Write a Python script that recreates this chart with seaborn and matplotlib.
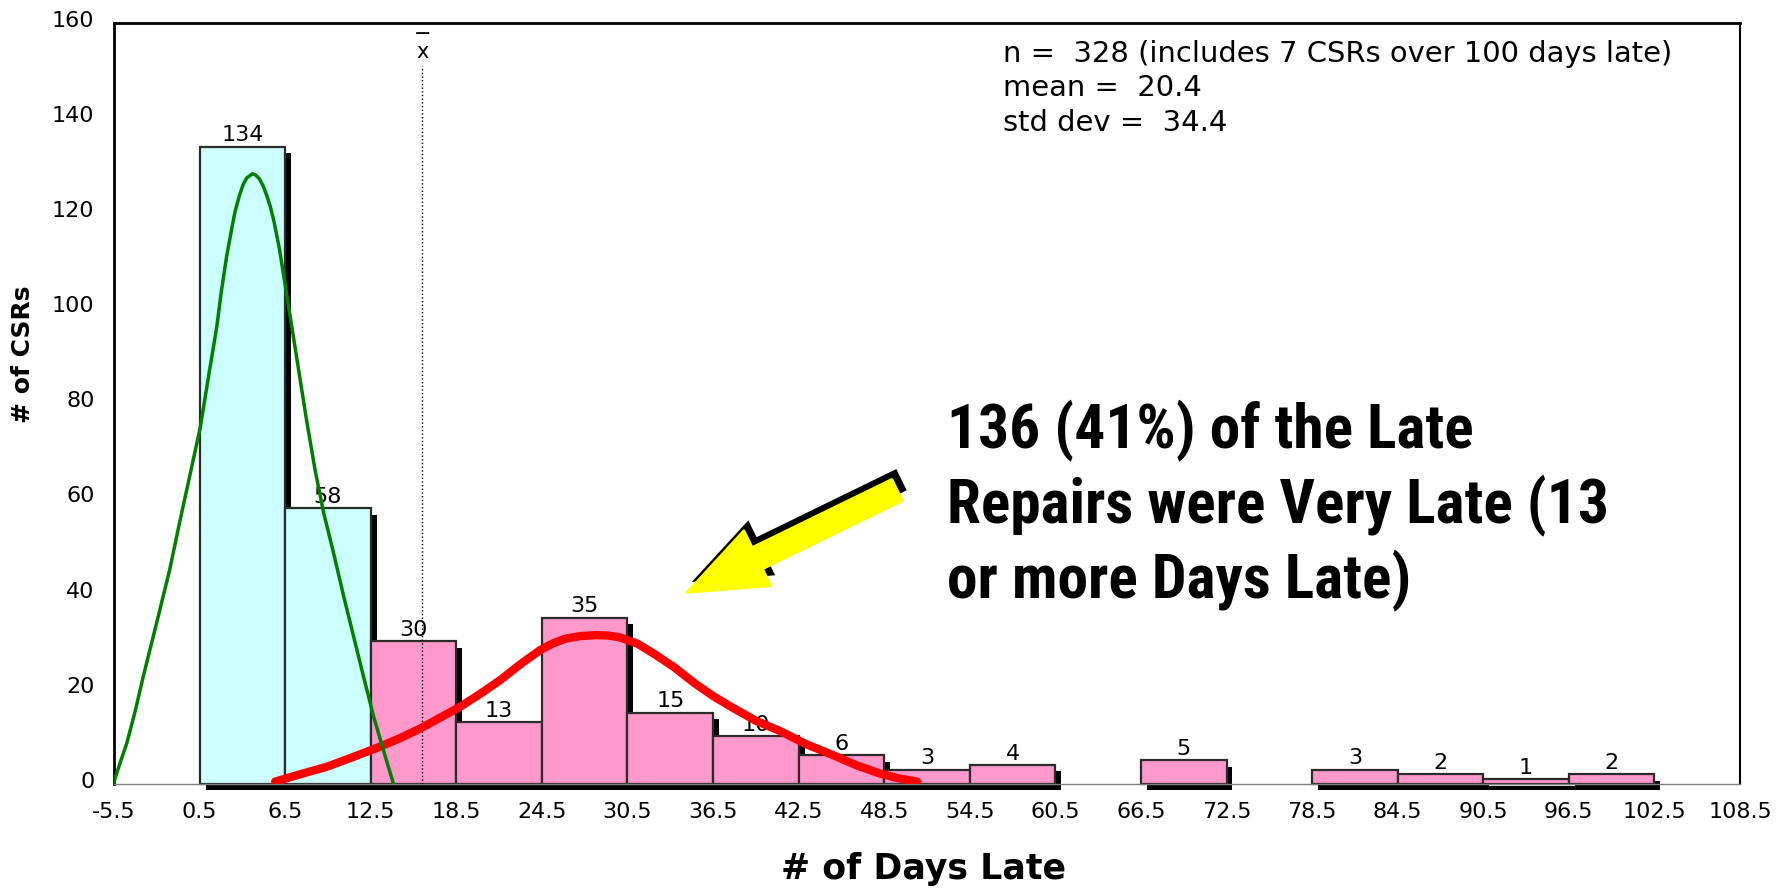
import numpy as np
import matplotlib
matplotlib.use("Agg")
import matplotlib.pyplot as plt
import matplotlib.patheffects as pe
import matplotlib.font_manager as fm
from matplotlib.transforms import ScaledTranslation
import seaborn as sns

# histogram of late repairs (bin centres / counts)
days_mid = [3.5, 9.5, 15.5, 21.5, 27.5, 33.5, 39.5, 45.5, 51.5, 57.5, 69.5, 81.5, 87.5, 93.5, 99.5]
csr_count = [134, 58, 30, 13, 35, 15, 10, 6, 3, 4, 5, 3, 2, 1, 2]
lateness = ["late"] * 2 + ["very late"] * 13
tick_labels = ["-5.5", "0.5", "6.5", "12.5", "18.5", "24.5", "30.5", "36.5", "42.5",
               "48.5", "54.5", "60.5", "66.5", "72.5", "78.5", "84.5", "90.5", "96.5",
               "102.5", "108.5"]
bin_edges = [float(t) for t in tick_labels]

# fitted curves, points
green_x = [-5.55, -5.1, -4.6, -4.0, -3.45, -2.5, -1.6, -0.9, -0.1, 0.55, 1.2, 1.7, 2.0, 2.4, 2.8,
           3.0, 3.3, 3.55, 3.8, 4.2, 4.45, 4.7, 4.95, 5.2, 5.45, 5.7, 6.1, 6.6, 7.0, 7.5, 8.0,
           8.6, 9.2, 9.9, 10.6, 11.3, 12.0, 12.7, 13.4, 14.1]
green_y = [0, 4.2, 8.6, 15.5, 22.6, 34, 45, 55, 66, 75, 87, 96, 103, 111, 117.5,
           120.5, 123.8, 126.0, 127.4, 128.3, 128.0, 127.2, 125.8, 123.8, 121.5, 118.5, 112.5, 103, 95.5, 86, 76.5,
           66, 57, 48.5, 39.5, 31, 22.5, 14.2, 7, 0]
red_x = [5.8, 7.5, 9.4, 11.2, 13.1, 14.6, 16.0, 17.4, 18.8, 20.2, 21.6, 23.0, 24.4, 25.3, 26.2,
         27.2, 28.3, 29.2, 30.0, 31.2, 32.3, 33.8, 35.2, 36.5, 37.9, 39.5, 41.3, 43.0, 44.9,
         46.5, 48.2, 49.5, 50.8]
red_y = [0.5, 2.0, 3.6, 5.6, 7.8, 9.7, 11.7, 14.0, 16.3, 19.0, 21.9, 25.2, 28.2, 29.6, 30.6,
         31.1, 31.3, 31.2, 30.8, 29.5, 27.5, 24.5, 21.2, 18.5, 16.0, 13.3, 11.0, 8.4, 6.1,
         4.0, 2.2, 1.2, 0.5]

xbar_pos = 16.1
stats_text = "n =  328 (includes 7 CSRs over 100 days late)\nmean =  20.4\nstd dev =  34.4"
callout_text = "136 (41%) of the Late\nRepairs were Very Late (13\nor more Days Late)"
arrow_tail = (49.4, 61.8)
arrow_tip = (34.7, 40.3)

sns.set_style("white")
plt.rcParams["font.family"] = ["DejaVu Sans"]
plt.rcParams["axes.unicode_minus"] = False
for k in ["text.color", "axes.labelcolor", "xtick.color", "ytick.color"]:
    plt.rcParams[k] = "black"


def pick_condensed():
    found = []
    for f in fm.fontManager.ttflist:
        nm = (f.name + " " + f.fname).lower()
        narrowish = "narrow" in nm or "condensed" in nm or f.stretch in ("condensed", "semi-condensed", "extra-condensed")
        w = f.weight if isinstance(f.weight, int) else (700 if "bold" in str(f.weight) else 400)
        if narrowish and w >= 600 and "italic" not in nm and "oblique" not in nm:
            rank = 0 if "liberation" in nm else 1 if "roboto" in nm else 2 if "dejavu" in nm else 3
            found.append((rank, f.fname))
    if found:
        return fm.FontProperties(fname=sorted(found)[0][1])
    return fm.FontProperties(family="Roboto", weight="bold")


W, H = 1789, 888
fig = plt.figure(figsize=(W / 100, H / 100), dpi=100)
ax = fig.add_axes([114 / W, 1 - 784 / H, 1626 / W, 761 / H])

sns.histplot(x=days_mid, weights=csr_count, bins=bin_edges, hue=lateness,
             palette={"late": "#ccffff", "very late": "#ff99cc"}, multiple="layer",
             alpha=1, edgecolor="#2b2b2b", linewidth=1.6, legend=False, ax=ax)

# drop empty bins, order by x so each shadow sits under its right neighbour
bars = [p for p in ax.patches if p.get_height() > 0]
for p in list(ax.patches):
    if p.get_height() <= 0:
        p.remove()
bars.sort(key=lambda p: p.get_x())
for i, p in enumerate(bars):
    p.set_zorder(1 + i * 0.01)
    p.set_clip_on(False)
    p.set_path_effects([pe.SimplePatchShadow(offset=(4.3, -4.6), shadow_rgbFace="black", alpha=1.0),
                        pe.Normal()])

for x, c in zip(days_mid, csr_count):
    ax.annotate(str(c), (x, c), xytext=(0, 1), textcoords="offset points",
                ha="center", va="bottom", fontsize=16, zorder=3)

sns.lineplot(x=red_x, y=red_y, color="#ff0000", lw=6, solid_capstyle="round", ax=ax, zorder=4)
sns.lineplot(x=green_x, y=green_y, color="#008000", lw=2.5, ax=ax, zorder=5)

# x-bar marker over the dotted mean line
ax.axvline(xbar_pos, ymax=151 / 160, color="black", ls=":", lw=1, zorder=3)
ax.text(xbar_pos, 152.6, "\u2212\nx", ha="center", va="baseline", multialignment="center",
        fontsize=15, linespacing=0.9)

stats = ax.text(0.547, 0.978, stats_text, transform=ax.transAxes, ha="left", va="top",
                fontsize=20, linespacing=1.3)

callout = ax.text(0.512, 0.505, callout_text, transform=ax.transAxes, ha="left", va="top",
                  fontproperties=pick_condensed(), linespacing=1.27)
callout.set_fontsize(40)

# size the two text blocks to the widths they have in the reference
fig.canvas.draw()
for t, target in [(stats, 670), (callout, 662)]:
    w = t.get_window_extent().width
    t.set_fontsize(t.get_fontsize() * target / w)

ax.annotate("", xy=arrow_tip, xytext=arrow_tail,
            arrowprops=dict(arrowstyle="simple,head_length=5.6,head_width=4.4,tail_width=1.7",
                            mutation_scale=10, facecolor="#ffff00", edgecolor="#ffff00",
                            lw=2, joinstyle="round", shrinkA=0, shrinkB=0,
                            path_effects=[pe.SimplePatchShadow(offset=(3.2, 7.5), shadow_rgbFace="black", alpha=1.0),
                                          pe.Normal()]),
            zorder=6)

ax.set_xlim(bin_edges[0], bin_edges[-1])
ax.set_ylim(0, 160)
ax.set_xticks(bin_edges)
ax.set_xticklabels(tick_labels)
ax.set_yticks(range(0, 161, 20))
ax.tick_params(axis="both", length=0, labelsize=16, colors="black")
ax.tick_params(axis="x", pad=13)
ax.tick_params(axis="y", pad=14)
up = ScaledTranslation(0, 3 / 72, fig.dpi_scale_trans)
for lab in ax.get_yticklabels():
    lab.set_transform(lab.get_transform() + up)

ax.set_xlabel("# of Days Late", fontsize=25, fontweight="bold")
ax.set_ylabel("# of CSRs", fontsize=18, fontweight="bold")
ax.xaxis.set_label_coords(0.498, -0.112)
ax.xaxis.label.set_va("center")
ax.yaxis.set_label_coords(-0.056, 0.565)
ax.yaxis.label.set_va("center")

for side, lw, col in [("top", 2, "black"), ("left", 2, "black"), ("right", 1.5, "black"), ("bottom", 1, "#808080")]:
    ax.spines[side].set_visible(True)
    ax.spines[side].set_linewidth(lw)
    ax.spines[side].set_color(col)

fig.savefig("out.png", dpi=100)
